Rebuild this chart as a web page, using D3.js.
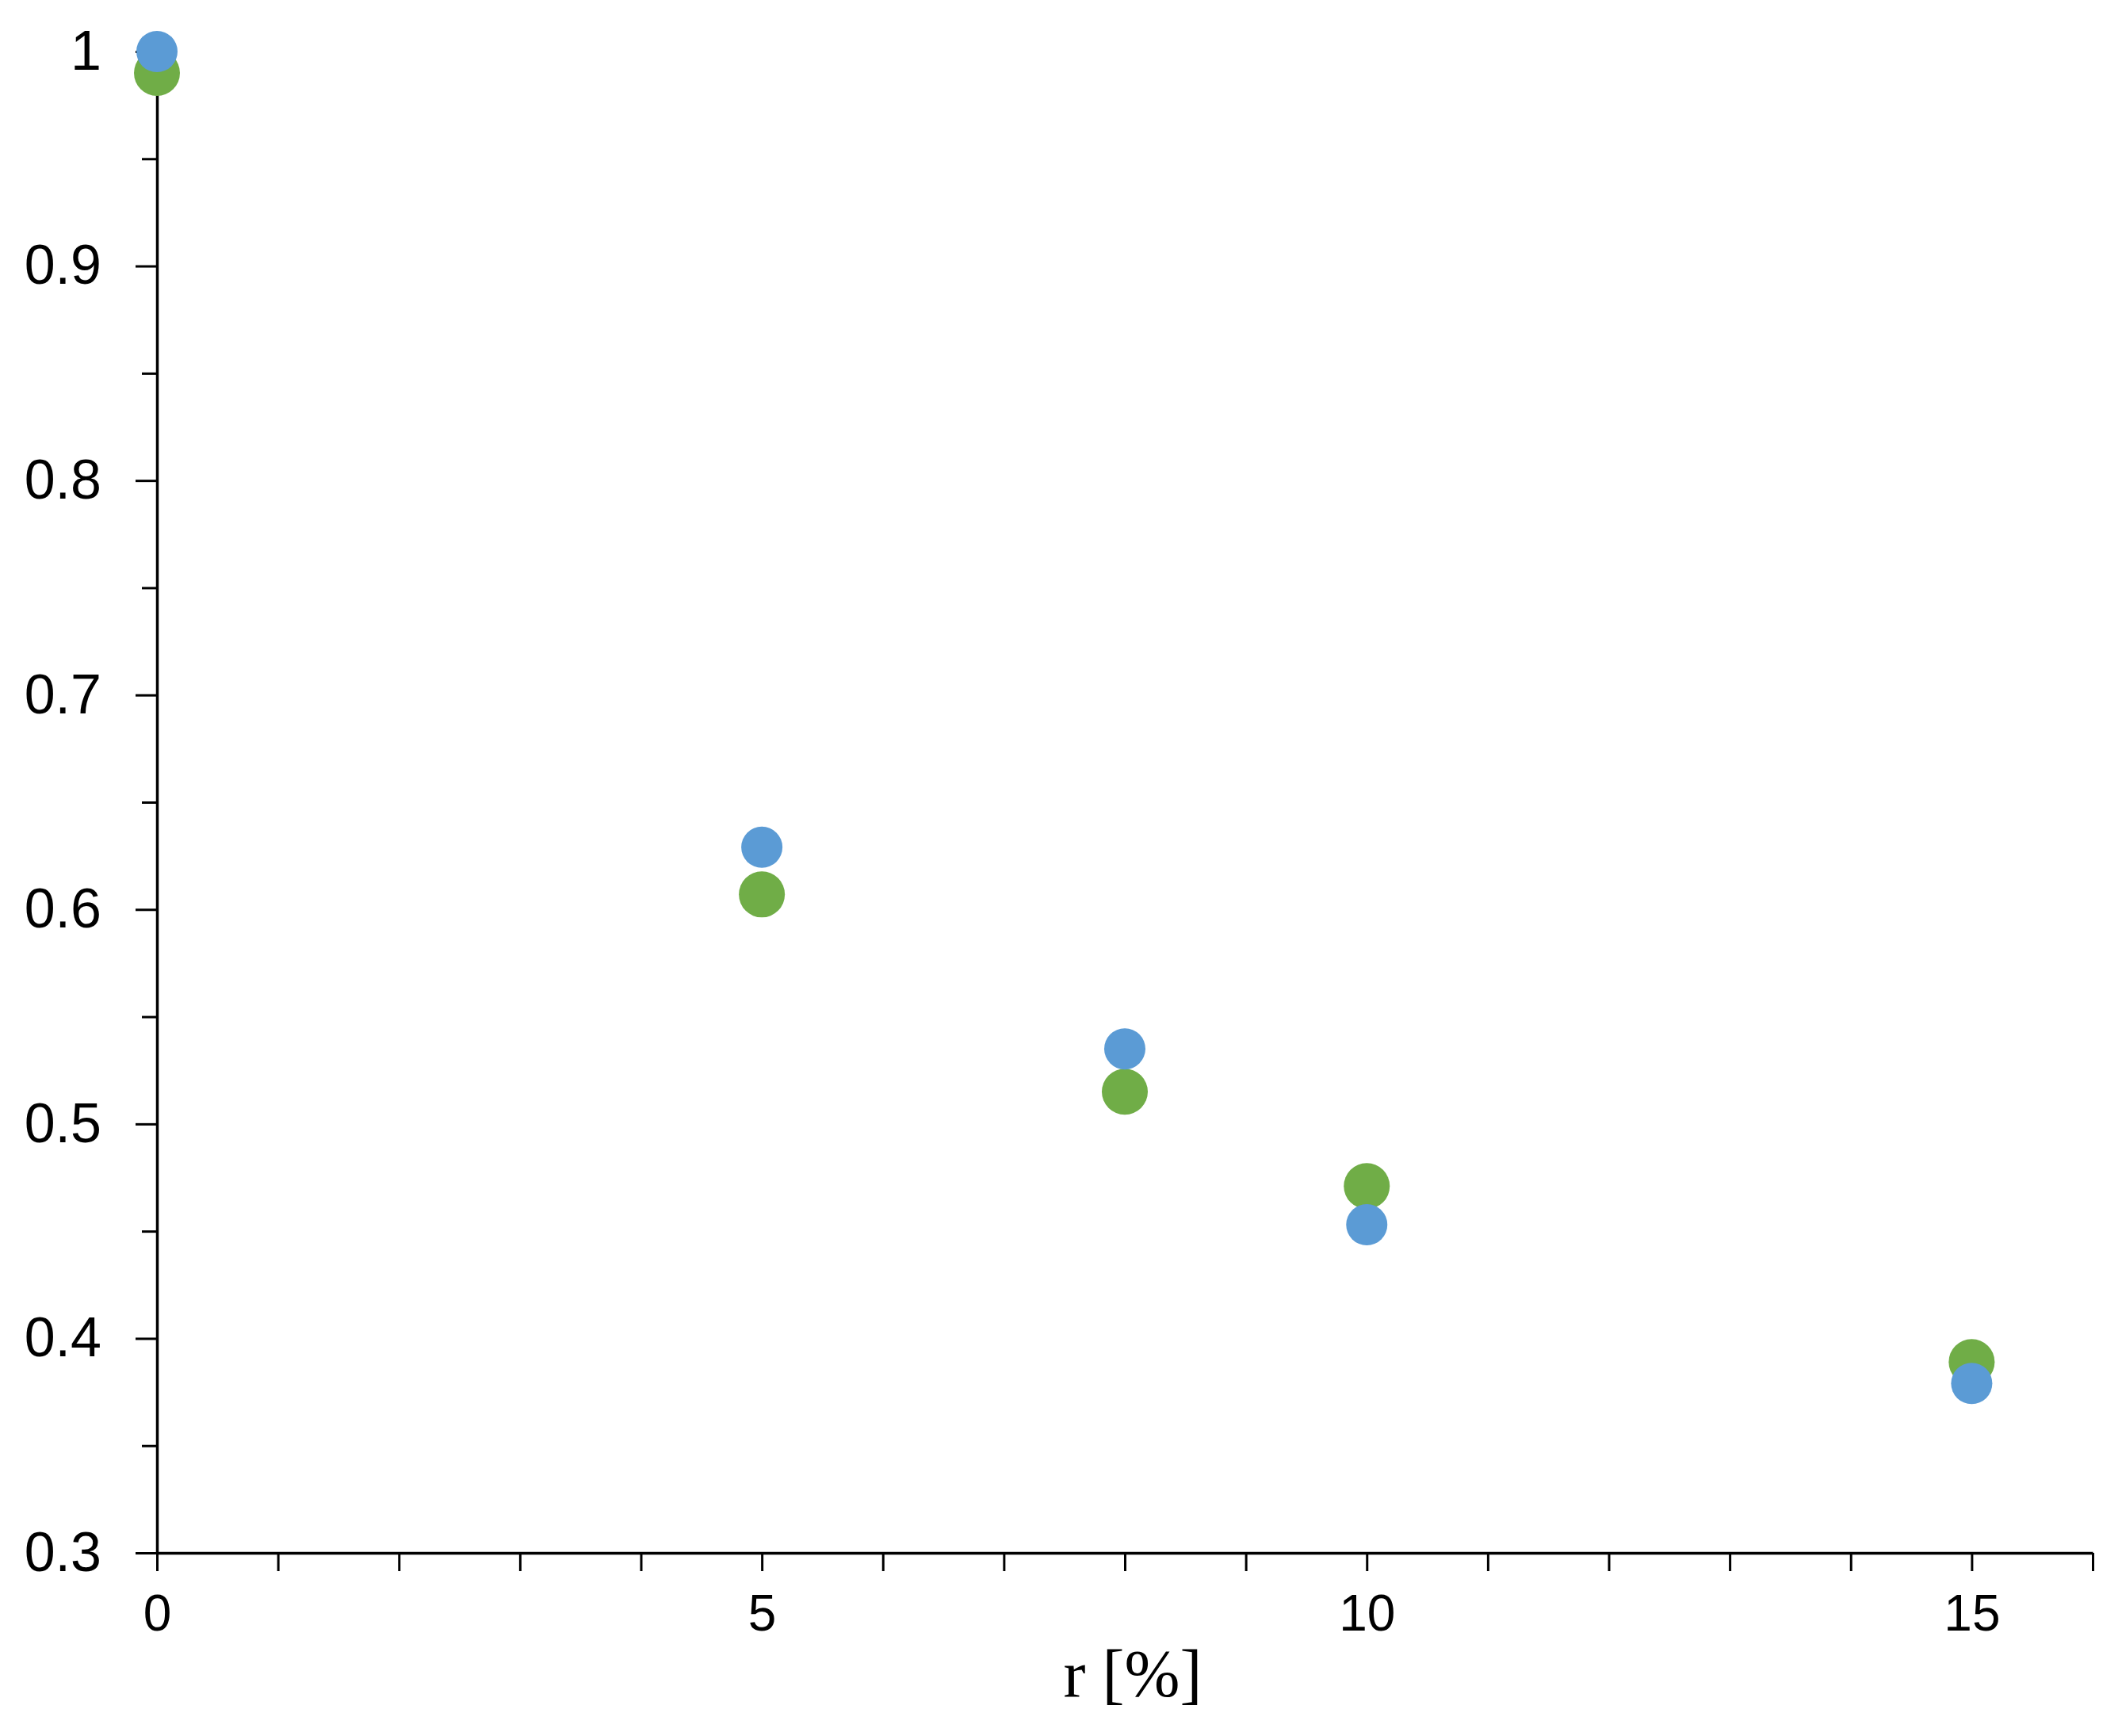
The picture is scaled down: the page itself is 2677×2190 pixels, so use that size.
<!DOCTYPE html>
<html>
<head>
<meta charset="utf-8">
<script src="https://cdn.jsdelivr.net/npm/d3@7"></script>
<style>
  html, body { margin: 0; padding: 0; background: #ffffff; }
  svg { display: block; }
</style>
</head>
<body>
<svg id="chart" width="2677" height="2190"></svg>
<script>
// ---- data ----
const rValues = [0, 5, 8, 10, 15];
const blueSeries = [1.0, 0.629, 0.535, 0.453, 0.379];
const greenSeries = [0.99, 0.607, 0.515, 0.471, 0.389];
const xTickValues = [0,1,2,3,4,5,6,7,8,9,10,11,12,13,14,15,16];
const xTickLabels = ["0", "5", "10", "15"];
const yMajorTicks = [0.3, 0.4, 0.5, 0.6, 0.7, 0.8, 0.9, 1.0];
const yMinorTicks = [0.35, 0.45, 0.55, 0.65, 0.75, 0.85, 0.95];
const xAxisTitle = "r [%]";

(function () {
  // ---- layout ----
  const W = 2677, H = 2190;
  const mLeft = 198, mRight = 2640, mTop = 65, mBottom = 1959;

  const svg = d3.select("#chart");
  svg.append("rect").attr("width", W).attr("height", H).attr("fill", "#ffffff");

  const x = d3.scaleLinear().domain([0, 16]).range([mLeft, mRight]);
  const y = d3.scaleLinear().domain([0.3, 1.0]).range([mBottom, mTop]);

  // y axis minor ticks
  svg.append("g")
    .attr("transform", `translate(${mLeft},0)`)
    .call(d3.axisLeft(y).tickValues(yMinorTicks).tickSize(19).tickSizeOuter(0).tickFormat(""))
    .call(g => g.select(".domain").remove())
    .call(g => g.selectAll("line").attr("stroke", "#000").attr("stroke-width", 3));

  // y axis major
  svg.append("g")
    .attr("transform", `translate(${mLeft},0)`)
    .call(d3.axisLeft(y).tickValues(yMajorTicks).tickSize(27).tickSizeOuter(0).tickPadding(43)
          .tickFormat(d => String(+d.toFixed(1))))
    .call(g => g.select(".domain").attr("stroke", "#000").attr("stroke-width", 3.5))
    .call(g => g.selectAll("line").attr("stroke", "#000").attr("stroke-width", 3))
    .call(g => g.selectAll("text")
        .attr("font-family", "'Liberation Sans', Arial, sans-serif")
        .attr("font-size", 70)
        .attr("fill", "#000"));

  // x axis
  svg.append("g")
    .attr("transform", `translate(0,${mBottom})`)
    .call(d3.axisBottom(x).tickValues(xTickValues).tickSize(23).tickSizeOuter(0).tickPadding(30)
          .tickFormat(d => xTickLabels.includes(String(d)) ? String(d) : ""))
    .call(g => g.select(".domain").attr("stroke", "#000").attr("stroke-width", 3.5))
    .call(g => g.selectAll("line").attr("stroke", "#000").attr("stroke-width", 3))
    .call(g => g.selectAll("text")
        .attr("font-family", "'Liberation Sans', Arial, sans-serif")
        .attr("font-size", 64)
        .attr("fill", "#000"));

  // x axis title
  svg.append("text")
    .attr("x", (mLeft + mRight) / 2 + 10)
    .attr("y", 2140)
    .attr("text-anchor", "middle")
    .attr("font-family", "'Liberation Serif', 'Times New Roman', serif")
    .attr("font-size", 84)
    .attr("fill", "#000")
    .text(xAxisTitle);

  // points: green first, blue on top
  svg.append("g").selectAll("circle")
    .data(rValues.map((r, i) => ({r, v: greenSeries[i]})))
    .join("circle")
    .attr("cx", d => x(d.r))
    .attr("cy", d => y(d.v))
    .attr("r", 29)
    .attr("fill", "#70ad47");

  svg.append("g").selectAll("circle")
    .data(rValues.map((r, i) => ({r, v: blueSeries[i]})))
    .join("circle")
    .attr("cx", d => x(d.r))
    .attr("cy", d => y(d.v))
    .attr("r", 26)
    .attr("fill", "#5b9bd5");
})();
</script>
</body>
</html>
